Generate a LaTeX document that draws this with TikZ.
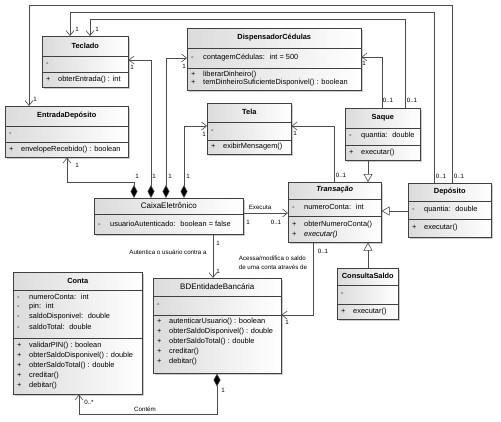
\documentclass[tikz,border=0pt]{standalone}
\usepackage{fontspec}
\setmainfont{Liberation Sans}
\usepackage{tikz}
\usetikzlibrary{arrows.meta,shadows}
\newcommand{\vis}[1]{\makebox[12pt][l]{#1}}

\begin{document}
\begin{tikzpicture}[
	x=1pt, y=-1pt,
	cls/.style={
		draw=black!75,
		anchor=north west,
		inner sep=0pt,
		line width=0.6pt,
		left color=black!14,
		right color=white,
		drop shadow={shadow xshift=2pt, shadow yshift=-2pt, fill=black!40}
	},
	sep/.style={draw=black!75, line width=0.5pt},
	hdr/.style={font=\fontsize{7.4}{8}\selectfont\bfseries, inner sep=0pt},
	mem/.style={font=\fontsize{7.4}{8}\selectfont, anchor=west, inner sep=0pt},
	lbl/.style={font=\fontsize{6.2}{8.5}\selectfont, inner sep=0pt},
	assoc/.style={
		draw=black!70,
		line width=0.6pt,
		-{Straight Barb[length=5pt,width=8pt]}
	},
	comp/.style={
		draw=black!70,
		line width=0.6pt,
		{Diamond[length=13pt,width=7pt,fill=black]}-{Straight Barb[length=5pt,width=8pt]}
	},
	gen/.style={
		draw=black!70,
		line width=0.6pt,
		-{Triangle[open,length=8pt,width=9pt]}
	}
	]
	
	\path[fill=white, use as bounding box] (0,0) rectangle (501,421);
	
	% Teclado
	\node[cls, minimum width=86, minimum height=51] (teclado) at (42,36) {};
	\foreach \y in {56,72}
		\draw[sep] (teclado.west |- 0,\y) -- (teclado.east |- 0,\y);
	\node[hdr] (tecladoH) at (teclado.north |- 0,46) {Teclado};
	\node[mem] (tecladoA) at (46,64) {\vis{-}};
	\node[mem] (tecladoM) at (46,80) {\vis{+}obterEntrada() : int};
	
	% DispensadorCedulas
	\node[cls, minimum width=174, minimum height=62] (disp) at (187,28) {};
	\foreach \y in {48,68}
		\draw[sep] (disp.west |- 0,\y) -- (disp.east |- 0,\y);
	\node[hdr] (dispH) at (disp.north |- 0,38) {DispensadorCédulas};
	\node[mem] (dispA) at (191,58) {\vis{-}contagemCédulas:~ int = 500};
	\node[mem] (dispM1) at (191,75) {\vis{+}liberarDinheiro()};
	\node[mem] (dispM2) at (191,83) {\vis{+}temDinheiroSuficienteDisponivel() : boolean};
	
	% Tela
	\node[cls, minimum width=84, minimum height=51] (tela) at (207,103) {};
	\foreach \y in {122,140}
		\draw[sep] (tela.west |- 0,\y) -- (tela.east |- 0,\y);
	\node[hdr] (telaH) at (tela.north |- 0,112) {Tela};
	\node[mem] (telaA) at (211,131) {\vis{-}};
	\node[mem] (telaM) at (211,147) {\vis{+}exibirMensagem()};
	
	% EntradaDeposito
	\node[cls, minimum width=123, minimum height=51] (entrada) at (5,106) {};
	\foreach \y in {126,142}
		\draw[sep] (entrada.west |- 0,\y) -- (entrada.east |- 0,\y);
	\node[hdr] (entradaH) at (entrada.north |- 0,116) {EntradaDepósito};
	\node[mem] (entradaA) at (9,134) {\vis{-}};
	\node[mem] (entradaM) at (9,150) {\vis{+}envelopeRecebido() : boolean};
	
	% Saque
	\node[cls, minimum width=75, minimum height=52] (saque) at (345,108) {};
	\foreach \y in {128,145}
		\draw[sep] (saque.west |- 0,\y) -- (saque.east |- 0,\y);
	\node[hdr] (saqueH) at (saque.north |- 0,118) {Saque};
	\node[mem] (saqueA) at (349,136) {\vis{-}quantia:~ double};
	\node[mem] (saqueM) at (349,153) {\vis{+}executar()};
	
	% CaixaEletronico
	\node[cls, minimum width=149, minimum height=36] (caixa) at (94,198) {};
	\draw[sep] (caixa.west |- 0,214) -- (caixa.east |- 0,214);
	\node[hdr, font=\fontsize{8}{9}\selectfont] (caixaH) at (caixa.north |- 0,206) {CaixaEletrônico};
	\node[mem] (caixaA) at (98,224) {\vis{-}usuarioAutenticado:~ boolean = false};
	
	% Transacao
	\node[cls, minimum width=93, minimum height=60] (trans) at (288,182) {};
	\foreach \y in {199,216}
		\draw[sep] (trans.west |- 0,\y) -- (trans.east |- 0,\y);
	\node[hdr, font=\fontsize{7.4}{8}\selectfont\bfseries\itshape] (transH) at (trans.north |- 0,190) {Transação};
	\node[mem] (transA) at (292,207) {\vis{-}numeroConta:~ int};
	\node[mem] (transM1) at (292,225) {\vis{+}obterNumeroConta()};
	\node[mem] (transM2) at (292,235) {\vis{+}\textit{executar()}};
	
	% Deposito
	\node[cls, minimum width=83, minimum height=54] (dep) at (408,183) {};
	\foreach \y in {201,219}
		\draw[sep] (dep.west |- 0,\y) -- (dep.east |- 0,\y);
	\node[hdr] (depH) at (dep.north |- 0,192) {Depósito};
	\node[mem] (depA) at (412,210) {\vis{-}quantia:~ double};
	\node[mem] (depM) at (412,228) {\vis{+}executar()};
	
	% ConsultaSaldo
	\node[cls, minimum width=61, minimum height=51] (cons) at (337,268) {};
	\foreach \y in {285,304}
		\draw[sep] (cons.west |- 0,\y) -- (cons.east |- 0,\y);
	\node[hdr] (consH) at (cons.north |- 0,276) {ConsultaSaldo};
	\node[mem] (consA) at (341,294) {\vis{-}};
	\node[mem] (consM) at (341,312) {\vis{+}executar()};
	
	% BDEntidadeBancaria
	\node[cls, minimum width=128, minimum height=95] (bd) at (153,278) {};
	\foreach \y in {296,315}
		\draw[sep] (bd.west |- 0,\y) -- (bd.east |- 0,\y);
	\node[hdr, font=\fontsize{8}{9}\selectfont] (bdH) at (bd.north |- 0,287) {BDEntidadeBancária};
	\node[mem] (bdA) at (157,305) {\vis{-}};
	\foreach \t [count=\i] in {autenticarUsuario() : boolean, obterSaldoDisponivel() : double, obterSaldoTotal() : double, creditar(), debitar()}
		\node[mem] (bdM\i) at (157,312+10*\i) {\vis{+}\t};
	
	% Conta
	\node[cls, minimum width=129, minimum height=122] (conta) at (13,272) {};
	\foreach \y in {290,338}
		\draw[sep] (conta.west |- 0,\y) -- (conta.east |- 0,\y);
	\node[hdr] (contaH) at (conta.north |- 0,281) {Conta};
	\foreach \t [count=\i] in {numeroConta:~ int, pin:~ int, saldoDisponivel:~ double, saldoTotal:~ double}
		\node[mem] (contaA\i) at (17,287+10*\i) {\vis{-}\t};
	\foreach \t [count=\i] in {validarPIN() : boolean, obterSaldoDisponivel() : double, obterSaldoTotal() : double, creditar(), debitar()}
		\node[mem] (contaM\i) at (17,336+10*\i) {\vis{+}\t};
	
	% compositions
	\draw[comp] (caixa.north -| 134,0) -- ++(0,-16) -| (entrada.south -| 67,0);
	\draw[comp] (caixa.north -| 151,0) |- (teclado.east |- 0,60);
	\draw[comp] (caixa.north -| 166,0) |- (disp.west |- 0,58);
	\draw[comp] (caixa.north -| 184,0) |- (tela.west |- 0,126);
	\draw[comp] (bd.south -| 217,0) -- ++(0,41) -| (conta.south -| 79,0);
	
	% associations
	\draw[assoc] (caixa.east |- 0,213) -- (trans.west |- 0,213);
	\draw[assoc] (caixa.south -| 213,0) -- (bd.north -| 213,0);
	\draw[assoc] (trans.south -| 313,0) |- (bd.east |- 0,315);
	\draw[assoc] (trans.north -| 334,0) |- (tela.east |- 0,126);
	\draw[assoc] (saque.north -| 382,0) |- (disp.east |- 0,57);
	\draw[assoc] (saque.north -| 405,0) |- (90,19) -- (teclado.north -| 90,0);
	\draw[assoc] (dep.north -| 434,0) |- (70,12) -- (teclado.north -| 70,0);
	\draw[assoc] (dep.north -| 452,0) |- (29,5) -- (entrada.north -| 29,0);
	
	% generalizations
	\draw[gen] (saque.south -| 368,0) -- (trans.north -| 368,0);
	\draw[gen] (dep.west |- 0,211) -- (trans.east |- 0,211);
	\draw[gen] (cons.north -| 368,0) -- (trans.south -| 368,0);
	
	% multiplicities and role texts
	\node[lbl] (m1) at (77,29) {1};
	\node[lbl] (m2) at (97,29) {1};
	\node[lbl] (m3) at (35,99) {1};
	\node[lbl] (m4) at (132,67) {1};
	\node[lbl] (m5) at (184,66) {1};
	\node[lbl] (m6) at (364,63) {1};
	\node[lbl] (m7) at (388,100) {0..1};
	\node[lbl] (m8) at (412,100) {0..1};
	\node[lbl] (m9) at (204,134) {1};
	\node[lbl] (m10) at (295,133) {1};
	\node[lbl] (m11) at (341,175) {0..1};
	\node[lbl] (m12) at (441,176) {0..1};
	\node[lbl] (m13) at (459,176) {0..1};
	\node[lbl] (m14) at (137,176) {1};
	\node[lbl] (m15) at (154,176) {1};
	\node[lbl] (m16) at (170,176) {1};
	\node[lbl] (m17) at (188,176) {1};
	\node[lbl] (m18) at (77,165) {1};
	\node[lbl] (m19) at (248,222) {1};
	\node[lbl] (m20) at (276,222) {0..1};
	\node[lbl] (m21) at (218,243) {1};
	\node[lbl] (m22) at (218,271) {1};
	\node[lbl] (m23) at (323,251) {0..1};
	\node[lbl] (m24) at (287,322) {1};
	\node[lbl] (m25) at (89,402) {0..*};
	\node[lbl] (m26) at (223,390) {1};
	\node[lbl] (executa) at (260,207) {Executa};
	\node[lbl] (autentica) at (168,252) {Autentica o usuário contra a};
	\node[lbl, align=left] (acessa) at (273,263) {Acessa/modifica o saldo\\de uma conta através de};
	\node[lbl] (contem) at (145,409) {Contém};
	
\end{tikzpicture}
\end{document}
